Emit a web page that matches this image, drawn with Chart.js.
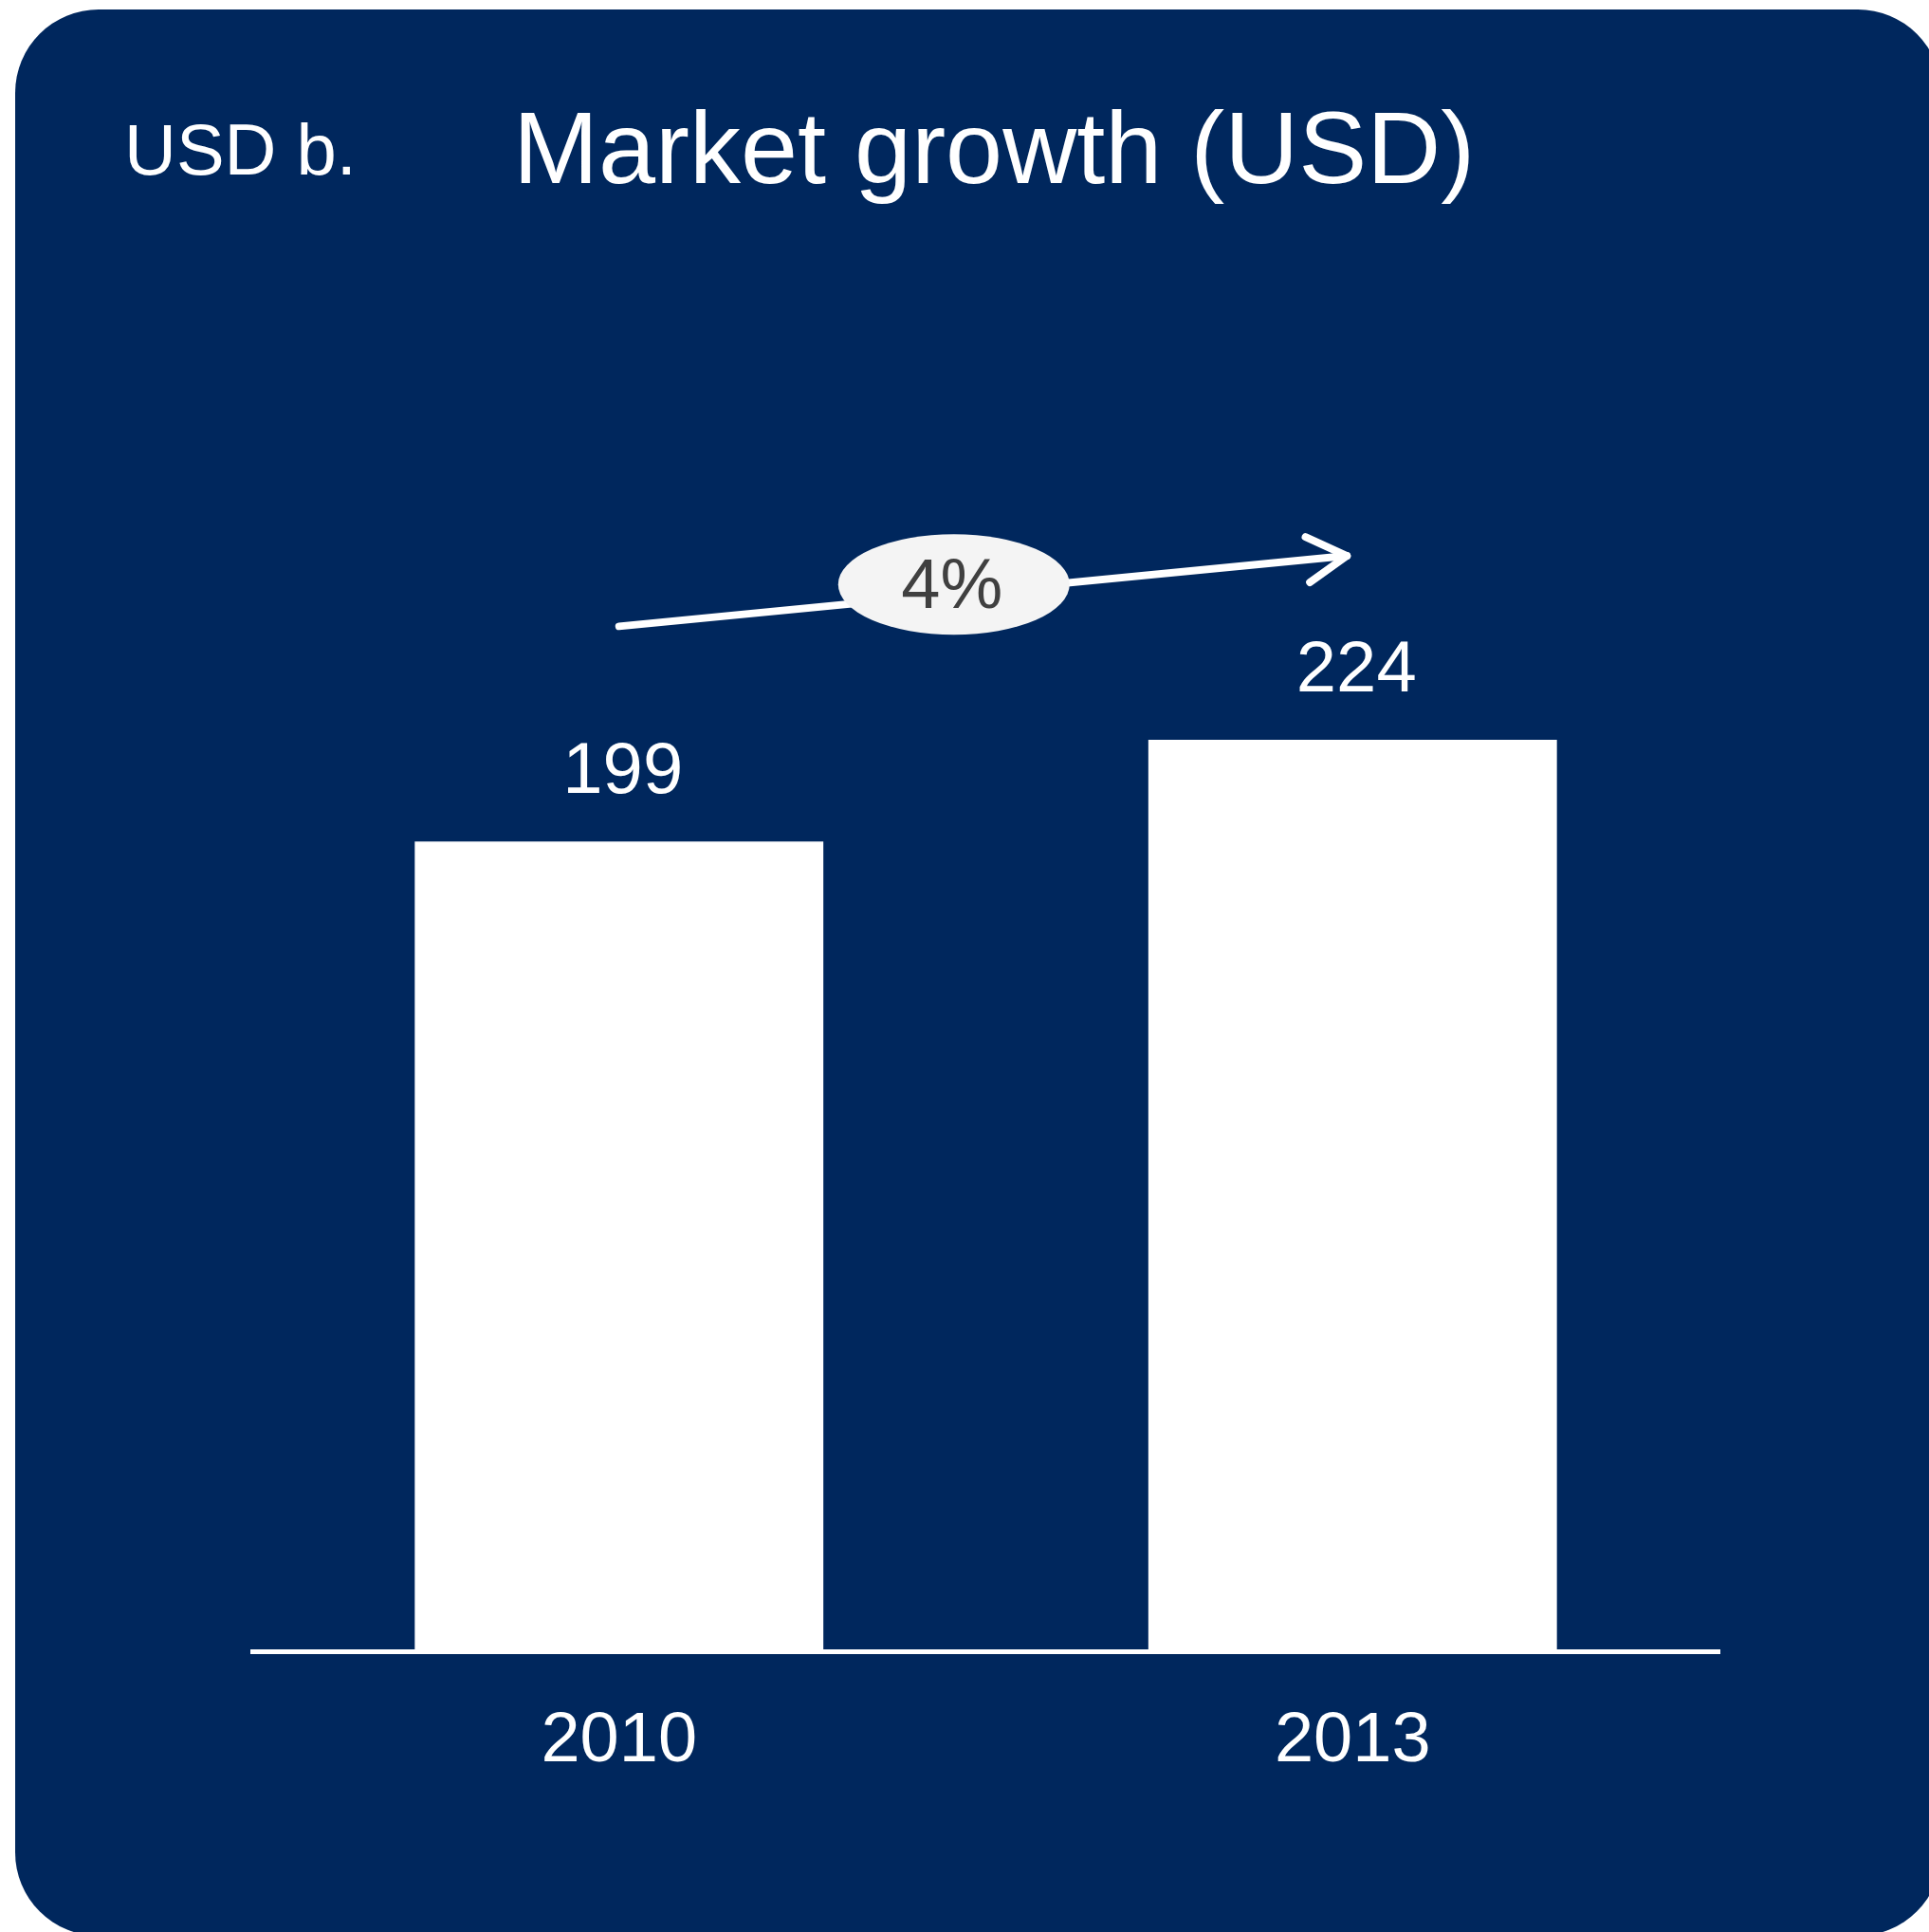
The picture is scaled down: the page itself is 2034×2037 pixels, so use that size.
<!DOCTYPE html>
<html>
<head>
<meta charset="utf-8">
<script src="https://cdn.jsdelivr.net/npm/chart.js@4.4.1/dist/chart.umd.min.js"></script>
<style>
  html, body { margin: 0; padding: 0; background: #ffffff; }
  #marketChart { display: block; }
</style>
</head>
<body>
<canvas id="marketChart" width="2034" height="2037"></canvas>
<script>
const years = ["2010", "2013"];
const marketSize = [199, 224];
const growthRate = "4%";
const unitLabel = "USD b.";
const chartTitle = "Market growth (USD)";

const NAVY = "#00275d";
const FONT = "'Liberation Sans', Arial, sans-serif";

// rounded navy card plus the heading line
const panelPlugin = {
  id: "panel",
  beforeDraw(chart) {
    const { ctx } = chart;
    ctx.save();
    ctx.fillStyle = NAVY;
    ctx.beginPath();
    ctx.roundRect(16, 10, 2031, 2031, 88);
    ctx.fill();
    ctx.fillStyle = "#ffffff";
    ctx.textBaseline = "alphabetic";
    ctx.font = `76px ${FONT}`;
    ctx.fillText(unitLabel, 131, 184);
    ctx.font = `108px ${FONT}`;
    ctx.fillText(chartTitle, 541, 193);
    ctx.restore();
  }
};

// numbers above each bar
const valueLabels = {
  id: "valueLabels",
  afterDatasetsDraw(chart) {
    const { ctx } = chart;
    const meta = chart.getDatasetMeta(0);
    ctx.save();
    ctx.fillStyle = "#ffffff";
    ctx.font = `76px ${FONT}`;
    ctx.textAlign = "center";
    ctx.textBaseline = "middle";
    meta.data.forEach((bar, i) => {
      ctx.fillText(String(marketSize[i]), bar.x + 4, bar.y - 72);
    });
    ctx.restore();
  }
};

// growth arrow with the rate in an oval
const growthArrow = {
  id: "growthArrow",
  afterDatasetsDraw(chart) {
    const { ctx } = chart;
    const [a, b] = chart.getDatasetMeta(0).data;
    const x0 = a.x, y0 = a.y - 227;
    const x1 = b.x - 6, y1 = b.y - 194;
    ctx.save();
    ctx.strokeStyle = "#ffffff";
    ctx.lineWidth = 8;
    ctx.lineJoin = "round";
    ctx.lineCap = "round";
    ctx.beginPath();
    ctx.moveTo(x0, y0);
    ctx.lineTo(x1, y1);
    ctx.stroke();

    const ang = Math.atan2(y1 - y0, x1 - x0);
    const head = 48, spread = 30 * Math.PI / 180;
    ctx.beginPath();
    ctx.moveTo(x1 - head * Math.cos(ang - spread), y1 - head * Math.sin(ang - spread));
    ctx.lineTo(x1, y1);
    ctx.lineTo(x1 - head * Math.cos(ang + spread), y1 - head * Math.sin(ang + spread));
    ctx.stroke();

    const t = 0.46;
    const ex = x0 + (x1 - x0) * t;
    const ey = y0 + (y1 - y0) * t - 10;
    ctx.fillStyle = "#f4f4f4";
    ctx.beginPath();
    ctx.ellipse(ex, ey, 122, 53, 0, 0, Math.PI * 2);
    ctx.fill();
    ctx.fillStyle = "#404040";
    ctx.font = `74px ${FONT}`;
    ctx.textAlign = "center";
    ctx.textBaseline = "middle";
    ctx.fillText(growthRate, ex - 2, ey + 4);
    ctx.restore();
  }
};

new Chart(document.getElementById("marketChart"), {
  type: "bar",
  data: {
    labels: years,
    datasets: [{
      data: marketSize,
      backgroundColor: "#ffffff",
      borderWidth: 0,
      barPercentage: 0.557,
      categoryPercentage: 1
    }]
  },
  options: {
    responsive: false,
    animation: false,
    layout: { padding: { left: 266, right: 221, top: 454, bottom: 105 } },
    plugins: {
      legend: { display: false },
      tooltip: { enabled: false }
    },
    scales: {
      x: {
        grid: { display: false, drawTicks: false },
        border: { display: true, color: "#ffffff", width: 5 },
        ticks: { color: "#ffffff", font: { family: FONT, size: 74 }, padding: 51 }
      },
      y: { display: false, min: 0, max: 300 }
    }
  },
  plugins: [panelPlugin, valueLabels, growthArrow]
});
</script>
</body>
</html>
